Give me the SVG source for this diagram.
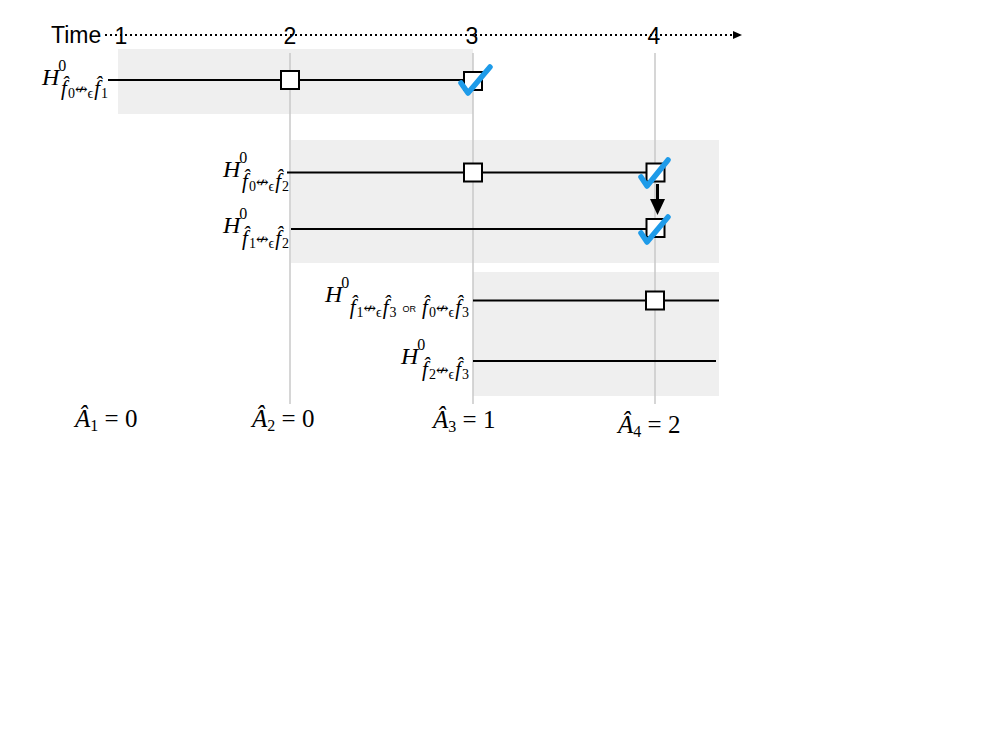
<svg xmlns="http://www.w3.org/2000/svg" width="997" height="747" viewBox="0 0 997 747">
<defs>
<style>
.bg{fill:#efefef}
.vl{stroke:#c8c8c8;stroke-width:1.5;fill:none}
.row{stroke:#000;stroke-width:2.2;fill:none}
.sq{fill:#fff;stroke:#000;stroke-width:2}
.chk{stroke:#1E9BE9;stroke-width:5.5;fill:none;stroke-linecap:round;stroke-linejoin:round}
.sans{font-family:"Liberation Sans",Arial,sans-serif;font-size:23px;fill:#000}
.H{font-family:"Liberation Serif","Times New Roman",serif;font-style:italic;font-size:24px;fill:#000}
.sup{font-family:"Liberation Serif","Times New Roman",serif;font-style:normal;font-size:16px}
.sub{font-family:"Liberation Serif","DejaVu Serif","Times New Roman",serif;font-style:italic;font-size:21px;fill:#000}
.s2{font-size:14px;font-style:normal}
.ar{font-family:"DejaVu Serif",serif;font-style:normal;font-size:15px}
.or{font-family:"Liberation Sans",Arial,sans-serif;font-size:9px;font-style:normal}
.A{font-family:"Liberation Serif","Times New Roman",serif;font-size:25px;fill:#000}
</style>
</defs>
<rect width="997" height="747" fill="#fff"/>
<g id="panels">
<rect class="bg" x="118" y="49" width="355" height="65"/>
<rect class="bg" x="291" y="140" width="428" height="123"/>
<rect class="bg" x="473" y="272" width="246" height="124"/>
</g>
<g id="gridlines">
<line class="vl" x1="290" y1="53" x2="290" y2="404"/>
<line class="vl" x1="473" y1="53" x2="473" y2="404"/>
<line class="vl" x1="655" y1="53" x2="655" y2="404"/>
</g>
<g id="timeline">
<text class="sans" x="51" y="43">Time</text>
<line x1="105" y1="35" x2="734" y2="35" stroke="#000" stroke-width="2" stroke-dasharray="2 3"/>
<polygon points="733,31 742,35 733,39" fill="#000"/>
<text class="sans" x="121" y="44" text-anchor="middle">1</text>
<text class="sans" x="290" y="44" text-anchor="middle">2</text>
<text class="sans" x="472" y="44" text-anchor="middle">3</text>
<text class="sans" x="654" y="44" text-anchor="middle">4</text>
</g>
<g id="connectors">
<line class="row" x1="108" y1="80" x2="473" y2="80"/>
<line class="row" x1="287" y1="172.5" x2="655" y2="172.5"/>
<line class="row" x1="291" y1="229" x2="655" y2="229"/>
<line class="row" x1="473" y1="300.5" x2="719" y2="300.5"/>
<line class="row" x1="473" y1="361" x2="716" y2="361"/>
<line x1="657.5" y1="184" x2="657.5" y2="202" stroke="#000" stroke-width="3"/>
<polygon points="650,199 665,199 657.5,215" fill="#000"/>
</g>
<g id="row1">
<text class="H" x="42" y="85">H<tspan class="sup" dx="-1" dy="-14">0</tspan></text>
<text class="sub" x="108" y="95" text-anchor="end">f̂<tspan class="s2" dx="1" dy="3">0</tspan><tspan class="ar" dy="-4">↮</tspan><tspan class="s2" dy="4">ϵ</tspan><tspan dx="1" dy="-3">f̂</tspan><tspan class="s2" dx="1" dy="3">1</tspan></text>
<rect class="sq" x="281" y="71" width="18" height="18"/>
<rect class="sq" x="464" y="72" width="18" height="18"/>
<path class="chk" d="M461,83 L468,93 L490,67"/>
</g>
<g id="row2">
<text class="H" x="223" y="177">H<tspan class="sup" dx="-1" dy="-14">0</tspan></text>
<text class="sub" x="289" y="188" text-anchor="end">f̂<tspan class="s2" dx="1" dy="3">0</tspan><tspan class="ar" dy="-4">↮</tspan><tspan class="s2" dy="4">ϵ</tspan><tspan dx="1" dy="-3">f̂</tspan><tspan class="s2" dx="1" dy="3">2</tspan></text>
<rect class="sq" x="464" y="163.5" width="18" height="18"/>
<rect class="sq" x="646.5" y="163.5" width="18" height="18"/>
<path class="chk" d="M641,177 L647,186 L668,160"/>
</g>
<g id="row3">
<text class="H" x="223" y="233">H<tspan class="sup" dx="-1" dy="-14">0</tspan></text>
<text class="sub" x="289" y="245" text-anchor="end">f̂<tspan class="s2" dx="1" dy="3">1</tspan><tspan class="ar" dy="-4">↮</tspan><tspan class="s2" dy="4">ϵ</tspan><tspan dx="1" dy="-3">f̂</tspan><tspan class="s2" dx="1" dy="3">2</tspan></text>
<rect class="sq" x="646.5" y="219" width="18" height="18"/>
<path class="chk" d="M641,233 L647,242 L668,217"/>
</g>
<g id="row4">
<text class="H" x="325" y="302">H<tspan class="sup" dx="-1" dy="-14">0</tspan></text>
<text class="sub" x="469" y="314" text-anchor="end">f̂<tspan class="s2" dx="1" dy="3">1</tspan><tspan class="ar" dy="-4">↮</tspan><tspan class="s2" dy="4">ϵ</tspan><tspan dx="1" dy="-3">f̂</tspan><tspan class="s2" dx="1" dy="3">3</tspan><tspan class="or" dx="6" dy="-5">OR</tspan><tspan dx="6" dy="2">f̂</tspan><tspan class="s2" dx="1" dy="3">0</tspan><tspan class="ar" dy="-4">↮</tspan><tspan class="s2" dy="4">ϵ</tspan><tspan dx="1" dy="-3">f̂</tspan><tspan class="s2" dx="1" dy="3">3</tspan></text>
<rect class="sq" x="646" y="291.5" width="18" height="18"/>
</g>
<g id="row5">
<text class="H" x="401" y="364">H<tspan class="sup" dx="-1" dy="-14">0</tspan></text>
<text class="sub" x="469" y="376" text-anchor="end">f̂<tspan class="s2" dx="1" dy="3">2</tspan><tspan class="ar" dy="-4">↮</tspan><tspan class="s2" dy="4">ϵ</tspan><tspan dx="1" dy="-3">f̂</tspan><tspan class="s2" dx="1" dy="3">3</tspan></text>
</g>
<g id="counters">
<text class="A" x="75" y="427"><tspan font-style="italic">Â</tspan><tspan font-size="16" dy="4">1</tspan><tspan dy="-4"> = 0</tspan></text>
<text class="A" x="252" y="427"><tspan font-style="italic">Â</tspan><tspan font-size="16" dy="4">2</tspan><tspan dy="-4"> = 0</tspan></text>
<text class="A" x="433" y="428"><tspan font-style="italic">Â</tspan><tspan font-size="16" dy="4">3</tspan><tspan dy="-4"> = 1</tspan></text>
<text class="A" x="618" y="433"><tspan font-style="italic">Â</tspan><tspan font-size="16" dy="4">4</tspan><tspan dy="-4"> = 2</tspan></text>
</g>
</svg>
